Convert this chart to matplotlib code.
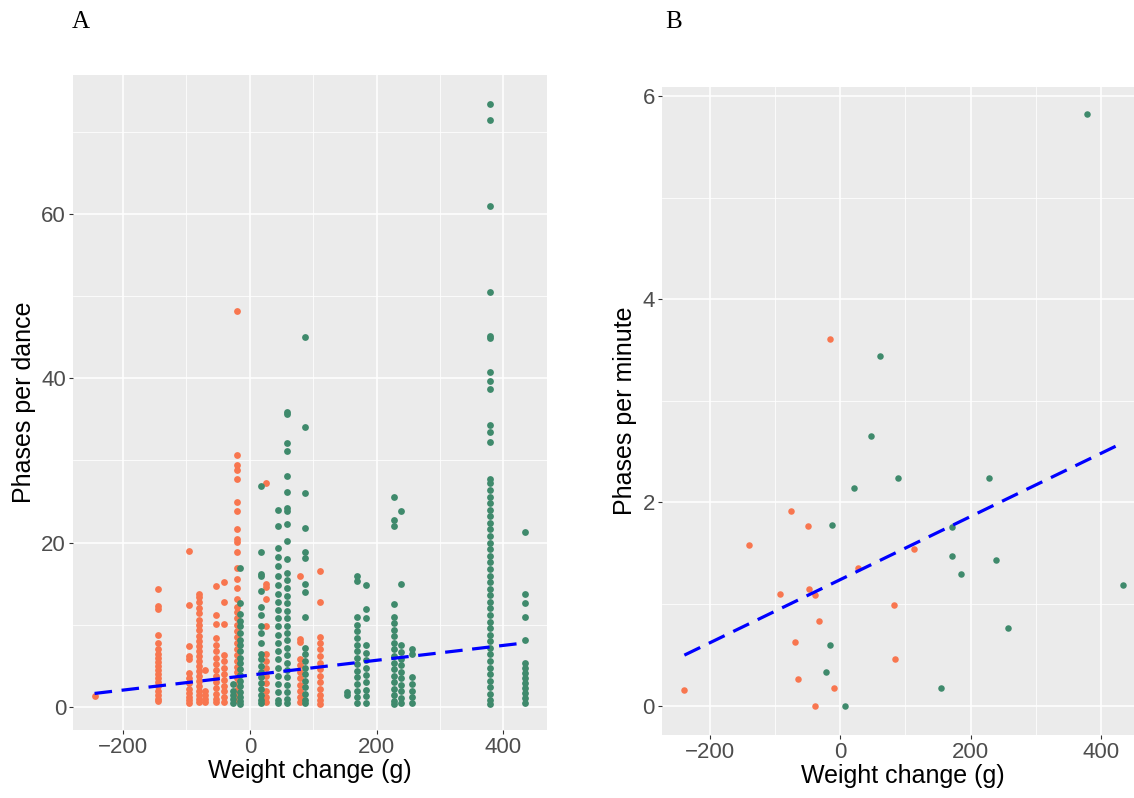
import numpy as np
import matplotlib.pyplot as plt

plt.rcParams['font.family'] = ['Liberation Sans', 'DejaVu Sans']

ORANGE = '#F8764F'
GREEN = '#3F8A6C'

# Panel A: weight change (x) and phases per dance, grouped in columns
a_orange_x = [-245, -145, -96, -80, -70, -53, -41, -21, 25, 79, 111]
a_orange_y = [
    [1.3],
    [14.4, 12.3, 11.9, 8.8, 7.8, 7.0, 6.5, 6.0, 5.5, 5.0, 4.5, 4.0, 3.5, 3.0, 2.5, 2.0, 1.5, 1.0, 0.7],
    [19.0, 12.4, 7.4, 6.2, 5.9, 4.1, 3.5, 2.9, 2.2, 1.7, 1.2, 0.9, 0.5],
    [13.8, 13.4, 12.8, 12.0, 11.4, 10.6, 10.0, 9.4, 8.6, 8.0, 7.4, 6.8, 6.2, 5.6, 5.0, 4.4, 3.8, 3.2,
     2.6, 2.0, 1.5, 1.0, 0.6],
    [4.5, 2.0, 1.4, 1.0, 0.6],
    [14.7, 11.2, 10.1, 8.4, 7.5, 6.8, 6.0, 5.2, 4.5, 3.8, 3.0, 2.3, 1.6, 1.0, 0.6],
    [15.2, 12.8, 10.1, 6.3, 5.6, 4.8, 4.0, 3.3, 2.6, 1.9, 1.2, 0.6],
    [48.2, 30.7, 29.4, 28.8, 27.7, 24.9, 23.8, 21.7, 20.4, 20.1, 18.8, 16.9, 15.6, 14.5, 13.2, 12.2,
     11.5, 10.8, 10.0, 9.2, 8.5, 7.8, 7.0, 6.3, 5.6, 4.9, 4.2, 3.5, 2.8, 2.1, 1.4, 0.8],
    [27.3, 15.0, 14.6, 13.2, 9.8, 6.5, 5.6, 4.7, 3.8, 2.9, 2.0, 1.2, 0.6],
    [16.0, 8.3, 7.9, 5.9, 5.1, 4.3, 3.5, 2.7, 1.9, 1.2, 0.6],
    [16.6, 12.8, 8.5, 7.8, 7.0, 6.2, 5.4, 4.6, 3.8, 3.0, 2.2, 1.4, 0.8, 0.4],
]
a_green_x = [-26, -16, 18, 45, 59, 87, 153, 169, 183, 228, 238, 256, 379, 435]
a_green_y = [
    [2.8, 2.0, 1.5, 1.0, 0.5],
    [16.9, 12.7, 11.3, 10.5, 9.8, 9.0, 8.2, 7.5, 6.8, 6.0, 5.3, 4.6, 3.9, 3.2, 2.5, 1.8, 1.2, 0.7, 0.4],
    [26.9, 18.8, 16.2, 15.9, 14.1, 12.2, 11.2, 9.8, 9.0, 7.8, 6.5, 5.8, 5.0, 4.3, 3.6, 2.9, 2.2, 1.5,
     0.9, 0.5],
    [24.0, 22.0, 19.3, 18.3, 17.1, 15.9, 14.8, 13.8, 12.8, 11.8, 10.8, 9.8, 8.8, 7.8, 6.8, 5.8, 4.8,
     3.8, 2.8, 1.8, 0.9, 0.5],
    [35.9, 35.6, 32.1, 31.2, 28.1, 26.2, 24.2, 23.9, 22.3, 20.2, 18.0, 16.3, 15.5, 14.5, 13.5, 12.6,
     11.7, 10.8, 9.9, 9.0, 8.1, 7.2, 6.3, 5.4, 4.5, 3.6, 2.7, 1.8, 1.0, 0.5],
    [45.0, 34.1, 26.1, 21.8, 18.9, 18.1, 15.0, 14.0, 11.0, 7.2, 6.4, 5.6, 4.8, 4.0, 3.2, 2.4, 1.6, 0.9, 0.5],
    [1.8, 1.4],
    [16.0, 15.3, 11.0, 10.0, 9.2, 8.4, 7.6, 6.8, 6.0, 5.2, 4.4, 3.6, 2.8, 2.0, 1.2, 0.5],
    [14.9, 11.9, 10.8, 7.5, 6.6, 5.7, 4.8, 3.9, 3.0, 2.1, 1.3, 0.5],
    [25.6, 22.7, 22.0, 12.5, 11.0, 10.2, 9.4, 8.6, 7.8, 7.0, 6.2, 5.4, 4.6, 3.8, 3.0, 2.2, 1.4, 0.7, 0.4],
    [23.8, 15.0, 7.5, 6.7, 5.9, 5.1, 4.3, 3.5, 2.7, 1.9, 1.1, 0.5],
    [7.0, 6.4, 3.6, 2.8, 2.0, 1.2, 0.5],
    [73.4, 71.4, 61.0, 50.5, 45.2, 44.9, 40.8, 39.7, 38.7, 34.3, 33.5, 32.2, 27.8, 27.2, 26.4, 25.6,
     24.8, 24.0, 23.2, 22.4, 21.6, 20.8, 20.0, 19.2, 18.4, 17.6, 16.8, 16.0, 15.2, 14.4, 13.6, 12.8,
     12.0, 11.2, 10.4, 9.6, 8.8, 8.0, 7.2, 6.4, 5.6, 4.8, 4.0, 3.2, 2.4, 1.6, 0.9, 0.4],
    [21.3, 13.8, 12.7, 11.0, 8.2, 5.3, 4.7, 4.1, 3.5, 2.9, 2.3, 1.7, 1.1, 0.5],
]
a_intercept, a_slope = 3.87, 0.00906

# Panel B: weight change (x) and phases per minute
b_orange_x = [-16, -75, -49, -140, 113, 28, -48, -92, -38, 82, -33, -70, 84, -65, -10, -239, -38]
b_orange_y = [3.61, 1.92, 1.77, 1.58, 1.54, 1.35, 1.15, 1.10, 1.09, 0.99, 0.83, 0.63, 0.46, 0.26,
              0.17, 0.15, 0.0]
b_green_x = [378, 61, 47, 89, 228, 21, -12, 171, 171, 239, 185, 433, 257, -16, -22, 154, 7]
b_green_y = [5.82, 3.44, 2.65, 2.24, 2.24, 2.14, 1.78, 1.76, 1.47, 1.43, 1.30, 1.19, 0.76, 0.60,
             0.33, 0.17, 0.0]
b_intercept, b_slope = 1.24, 0.00311


def style_axes(ax, yticks, yminor, ylabel):
    ax.set_facecolor('#EBEBEB')
    for s in ax.spines.values():
        s.set_visible(False)
    ax.set_xticks([-200, 0, 200, 400])
    ax.set_xticks([-100, 100, 300], minor=True)
    ax.set_yticks(yticks)
    ax.set_yticks(yminor, minor=True)
    ax.grid(which='major', color='white', linewidth=1.1)
    ax.grid(which='minor', color='white', linewidth=0.55)
    ax.set_axisbelow(True)
    ax.tick_params(which='major', length=3, width=0.8, color='#333333', labelsize=16,
                   labelcolor='#4D4D4D', pad=2)
    ax.tick_params(which='minor', length=0)
    ax.set_xlabel('Weight change (g)', fontsize=18, color='black', labelpad=1)
    ax.set_ylabel(ylabel, fontsize=18, color='black', labelpad=4)


fig = plt.figure(figsize=(11.34, 7.98), dpi=100)

# Panel A
axA = fig.add_axes([0.0644, 0.0852, 0.418, 0.8208])
for x, ys in zip(a_orange_x, a_orange_y):
    axA.scatter([x] * len(ys), ys, s=24, color=ORANGE, linewidths=0, zorder=3)
for x, ys in zip(a_green_x, a_green_y):
    axA.scatter([x] * len(ys), ys, s=24, color=GREEN, linewidths=0, zorder=3)
all_ax = np.array(a_orange_x + a_green_x)
xl = np.array([all_ax.min(), all_ax.max()])
axA.plot(xl, a_intercept + a_slope * xl, color='#0000FF', lw=2.3,
         linestyle=(0, (5.5, 3)), zorder=4)
axA.set_xlim(-279, 469)
axA.set_ylim(-2.8, 76.9)
style_axes(axA, [0, 20, 40, 60], [10, 30, 50, 70], 'Phases per dance')

# Panel B
axB = fig.add_axes([0.5836, 0.0789, 0.4251, 0.812])
axB.scatter(b_orange_x, b_orange_y, s=22, color=ORANGE, linewidths=0, zorder=3)
axB.scatter(b_green_x, b_green_y, s=22, color=GREEN, linewidths=0, zorder=3)
all_bx = np.array(b_orange_x + b_green_x)
xl = np.array([all_bx.min(), all_bx.max()])
axB.plot(xl, b_intercept + b_slope * xl, color='#0000FF', lw=2.3,
         linestyle=(0, (5.5, 3)), zorder=4)
axB.set_xlim(-273.6, 465.6)
axB.set_ylim(-0.29, 6.09)
style_axes(axB, [0, 2, 4, 6], [1, 3, 5], 'Phases per minute')

fig.text(72 / 1134, 1 - 22 / 798, 'A', family='Liberation Serif', fontsize=18, va='center')
fig.text(665 / 1134, 1 - 22 / 798, 'B', family='Liberation Serif', fontsize=18, va='center')

fig.savefig('out.png', dpi=100)
